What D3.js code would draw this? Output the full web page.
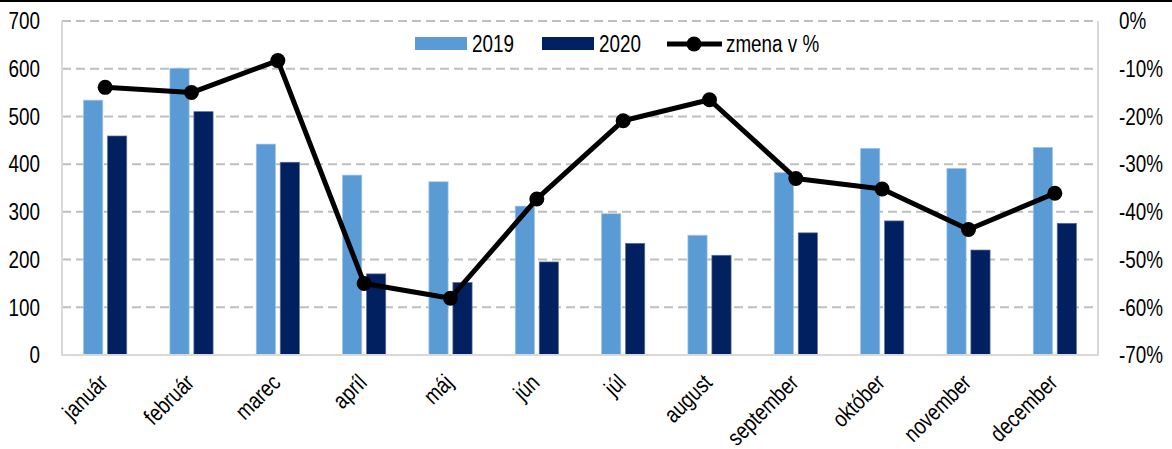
<!DOCTYPE html>
<html>
<head>
<meta charset="utf-8">
<script src="https://cdn.jsdelivr.net/npm/d3@7.9.0/dist/d3.min.js"></script>
<style>
  body { margin: 0; background: #fff; }
  svg { display: block; font-family: "Liberation Sans", Arial, sans-serif; }
</style>
</head>
<body>
<svg id="chart" width="1172" height="449"></svg>
<script>
const months = ['január', 'február', 'marec', 'apríl', 'máj', 'jún', 'júl', 'august', 'september', 'október', 'november', 'december'];
const values2019 = [534, 601, 442, 377, 363, 312, 296, 251, 382, 433, 391, 435];
const values2020 = [459, 510, 404, 170, 152, 195, 234, 209, 256, 281, 220, 276];
const changePct = [-13.9, -15.0, -8.3, -55.0, -58.1, -37.3, -20.9, -16.5, -33.0, -35.2, -43.7, -36.1];
const leftTicks = [0, 100, 200, 300, 400, 500, 600, 700];
const rightTicks = [0, -10, -20, -30, -40, -50, -60, -70];

const svg = d3.select('#chart');
const plotLeft = 62, plotRight = 1098, plotTop = 21, plotBottom = 355;
const narrow = 'scale(0.82,1)'; // no narrow font installed, squeeze the regular one

// black line at the very top
svg.append('line').attr('x1', 0).attr('x2', 1172).attr('y1', 1).attr('y2', 1)
  .attr('stroke', '#000').attr('stroke-width', 2);

let x = d3.scaleBand().domain(months).range([plotLeft, plotRight]).paddingInner(0).paddingOuter(0);
let xSub = d3.scaleBand().domain(['2019', '2020']).range([0, x.bandwidth()]).paddingInner(0.2).paddingOuter(0.9);
let y = d3.scaleLinear().domain([0, 700]).range([plotBottom, plotTop]);
let y2 = d3.scaleLinear().domain([-70, 0]).range([plotBottom, plotTop]);

// gridlines
svg.append('g').selectAll('line').data(leftTicks.filter(d => d > 0)).join('line')
  .attr('x1', plotLeft).attr('x2', plotRight)
  .attr('y1', d => y(d)).attr('y2', d => y(d))
  .attr('stroke', '#bfbfbf').attr('stroke-width', 2).attr('stroke-dasharray', '9,5');

// bars
let groups = svg.append('g').selectAll('g').data(months).join('g')
  .attr('transform', d => `translate(${x(d)},0)`);
groups.append('rect')
  .attr('x', xSub('2019')).attr('width', xSub.bandwidth())
  .attr('y', (d, i) => y(values2019[i])).attr('height', (d, i) => plotBottom - y(values2019[i]))
  .attr('fill', '#5b9bd5').attr('stroke', '#9dc3e6').attr('stroke-width', 0.7);
groups.append('rect')
  .attr('x', xSub('2020')).attr('width', xSub.bandwidth())
  .attr('y', (d, i) => y(values2020[i])).attr('height', (d, i) => plotBottom - y(values2020[i]))
  .attr('fill', '#002060').attr('stroke', '#5a6f99').attr('stroke-width', 0.7);

// axis lines
svg.append('line').attr('x1', plotLeft).attr('x2', plotLeft).attr('y1', plotTop).attr('y2', plotBottom)
  .attr('stroke', '#d9d9d9').attr('stroke-width', 2);
svg.append('line').attr('x1', plotRight).attr('x2', plotRight).attr('y1', plotTop).attr('y2', plotBottom)
  .attr('stroke', '#d9d9d9').attr('stroke-width', 2);
svg.append('line').attr('x1', plotLeft - 1).attr('x2', plotRight + 1).attr('y1', plotBottom).attr('y2', plotBottom)
  .attr('stroke', '#d9d9d9').attr('stroke-width', 2);

// left tick labels
svg.append('g').selectAll('text').data(leftTicks).join('text')
  .attr('transform', d => `translate(40,${y(d)}) ${narrow}`).attr('dy', '0.36em')
  .attr('text-anchor', 'end').attr('font-size', 23).attr('fill', '#000')
  .text(d => d);

// right tick labels
svg.append('g').selectAll('text').data(rightTicks).join('text')
  .attr('transform', d => `translate(1119,${y2(d)}) ${narrow}`).attr('dy', '0.36em')
  .attr('text-anchor', 'start').attr('font-size', 23).attr('fill', '#000')
  .text(d => d + '%');

// x labels
svg.append('g').selectAll('text').data(months).join('text')
  .attr('transform', d => `translate(${x(d) + x.bandwidth() / 2 + 4},${plotBottom + 29}) rotate(-45) ${narrow}`)
  .attr('text-anchor', 'end').attr('font-size', 23)
  .text(d => d);

// change line
let line = d3.line()
  .x((d, i) => x(months[i]) + x.bandwidth() / 2)
  .y(d => y2(d));
svg.append('path').datum(changePct).attr('d', line)
  .attr('fill', 'none').attr('stroke', '#000').attr('stroke-width', 5).attr('stroke-linejoin', 'round');
svg.append('g').selectAll('circle').data(changePct).join('circle')
  .attr('cx', (d, i) => x(months[i]) + x.bandwidth() / 2)
  .attr('cy', d => y2(d)).attr('r', 7.5).attr('fill', '#000');

// legend
let legend = svg.append('g').attr('font-size', 23);
legend.append('rect').attr('x', 415).attr('y', 37).attr('width', 52).attr('height', 13).attr('fill', '#5b9bd5');
legend.append('text').attr('transform', `translate(472,52) ${narrow}`).text('2019');
legend.append('rect').attr('x', 542).attr('y', 37).attr('width', 52).attr('height', 13).attr('fill', '#002060');
legend.append('text').attr('transform', `translate(599,52) ${narrow}`).text('2020');
legend.append('line').attr('x1', 667).attr('x2', 722).attr('y1', 44).attr('y2', 44)
  .attr('stroke', '#000').attr('stroke-width', 5);
legend.append('circle').attr('cx', 694).attr('cy', 44).attr('r', 7.5).attr('fill', '#000');
legend.append('text').attr('transform', `translate(726,52) ${narrow}`).text('zmena v %');
</script>
</body>
</html>
